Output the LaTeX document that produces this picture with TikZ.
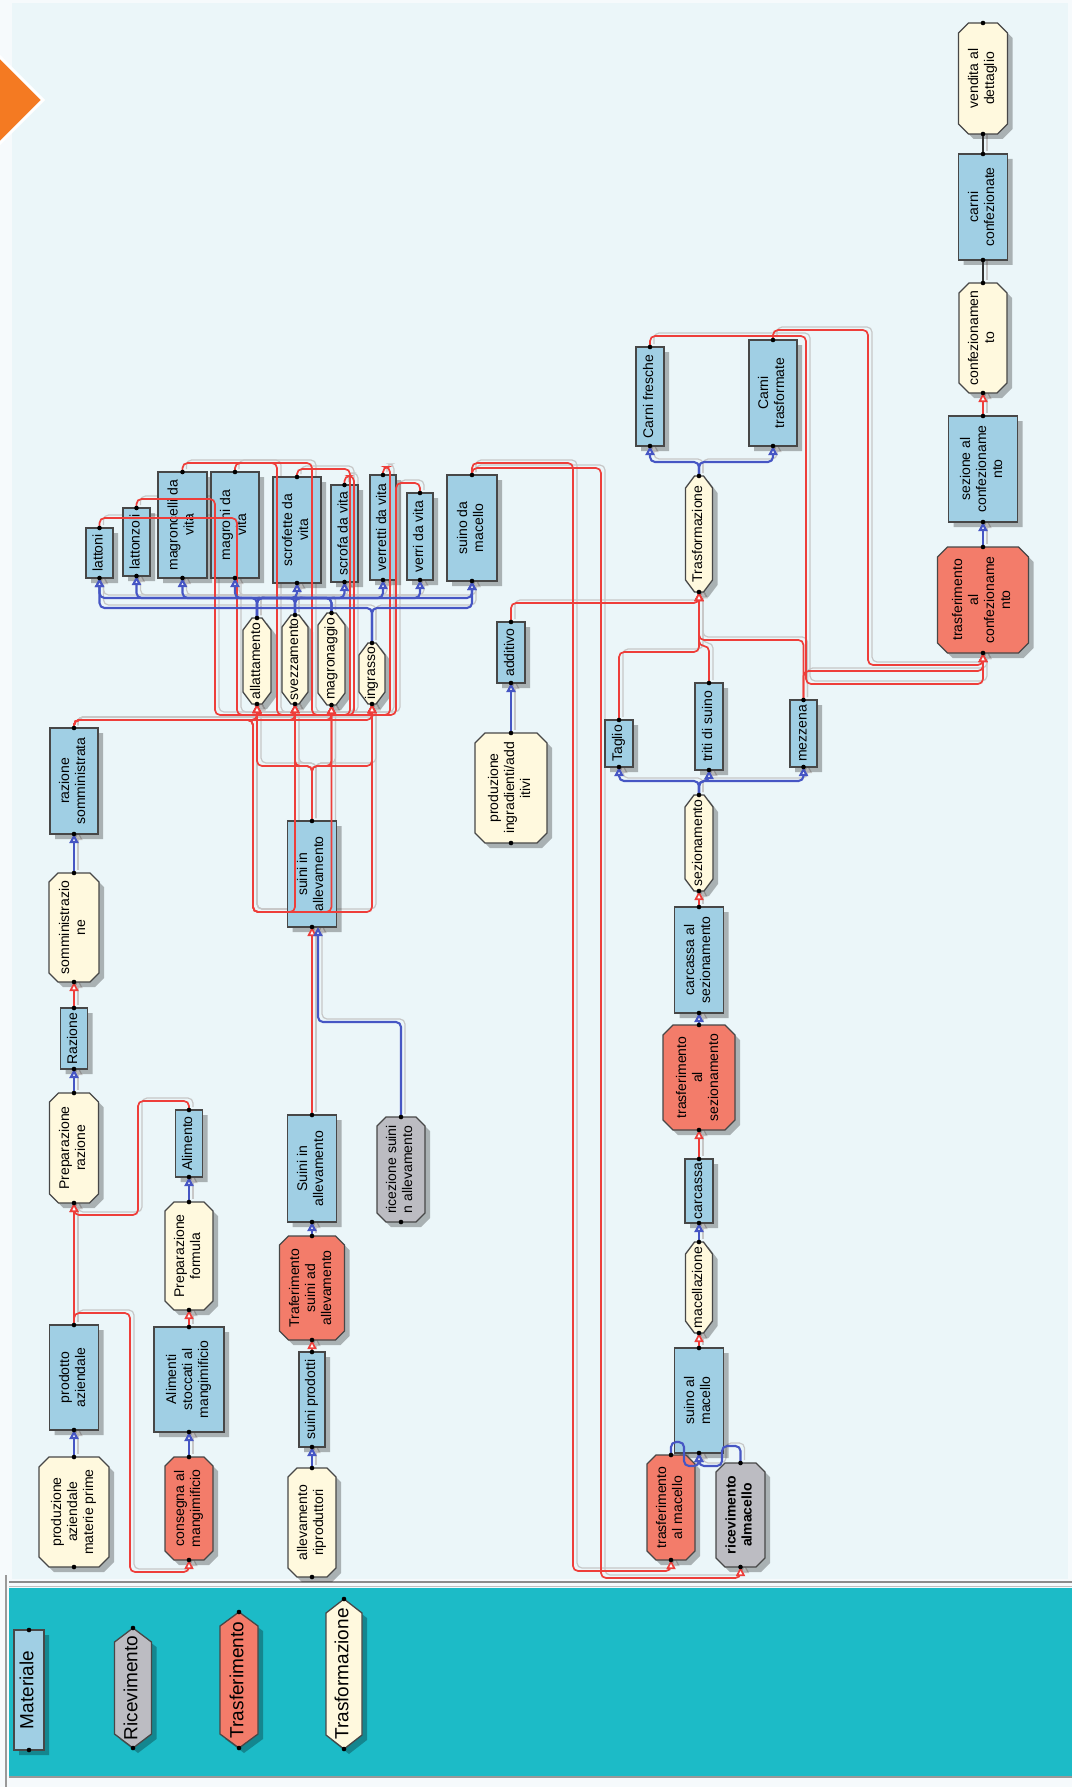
\documentclass[tikz,border=0pt]{standalone}
\usepackage{fontspec}
\setmainfont{Liberation Sans}
\usepackage{graphicx}
\usetikzlibrary{arrows.meta,calc}
\definecolor{matblue}{RGB}{160,207,228}
\definecolor{cream}{RGB}{255,249,222}
\definecolor{salmon}{RGB}{243,124,106}
\definecolor{greyc}{RGB}{188,188,194}
\definecolor{legteal}{RGB}{28,187,199}
\definecolor{panelc}{RGB}{235,246,249}
\definecolor{outc}{RGB}{246,250,252}
\definecolor{lred}{RGB}{238,62,58}
\definecolor{lblue}{RGB}{70,86,196}
\definecolor{orng}{RGB}{244,122,34}
\pgfdeclarelayer{bgl}
\pgfdeclarelayer{shl}
\pgfsetlayers{bgl,shl,main}
\newcommand\nf{\fontsize{14}{16}\selectfont}
\newcommand\lf{\fontsize{19}{21}\selectfont}
\newcommand\rt[1]{\rotatebox{90}{\begin{tabular}{@{}c@{}}#1\end{tabular}}}
\tikzset{
  txt/.style={inner sep=0pt,outer sep=0pt,font=\nf,text=black},
  matn/.style={fill=matblue,draw=black!72,line width=1.3pt},
  trfn/.style={fill=cream,draw=black!72,line width=1.3pt},
  tsfn/.style={fill=salmon,draw=black!72,line width=1.3pt},
  ricn/.style={fill=greyc,draw=black!72,line width=1.3pt},
  tipa/.style={-{Triangle[length=9pt,width=9pt,fill=white]}},
  gline/.style={draw=black!22,line width=1.2pt,rounded corners=5pt,tipa,transform canvas={xshift=4pt,yshift=3pt}},
  rline/.style={draw=lred,line width=1.7pt,rounded corners=5pt,tipa},
  bline/.style={draw=lblue,line width=2.1pt,rounded corners=5pt,tipa},
  kline/.style={draw=black!80,line width=1.1pt},
}
\newcommand\ND[9]{%
  \pgfmathsetmacro\hw{(#5)/2}\pgfmathsetmacro\hh{(#6)/2}%
  \begin{scope}[shift={(#3,#4)}]
    \fill[black,opacity=.28,shift={(5,5)}] (-\hw,{-\hh+#8}) -- ({-\hw+#7},-\hh) -- ({\hw-#7},-\hh) -- (\hw,{-\hh+#8}) -- (\hw,{\hh-#8}) -- ({\hw-#7},\hh) -- ({-\hw+#7},\hh) -- (-\hw,{\hh-#8}) -- cycle;
    \filldraw[#2] (-\hw,{-\hh+#8}) -- ({-\hw+#7},-\hh) -- ({\hw-#7},-\hh) -- (\hw,{-\hh+#8}) -- (\hw,{\hh-#8}) -- ({\hw-#7},\hh) -- ({-\hw+#7},\hh) -- (-\hw,{\hh-#8}) -- cycle;
  \end{scope}
  \node[txt,minimum width=#5pt,minimum height=#6pt] (#1) at (#3,#4) {\rt{#9}};}
\newcommand\RL[2][]{\begin{pgfonlayer}{shl}\draw[gline,#1] #2;\end{pgfonlayer}\draw[rline,#1] #2;}
\newcommand\BL[2][]{\begin{pgfonlayer}{shl}\draw[gline,#1] #2;\end{pgfonlayer}\draw[bline,#1] #2;}
\newcommand\KL[1]{\begin{pgfonlayer}{shl}\draw[kline,draw=black!22,transform canvas={xshift=4pt,yshift=3pt}] #1;\end{pgfonlayer}\draw[kline] #1;}
\begin{document}
\begin{tikzpicture}[x=1pt,y=-1pt]
\useasboundingbox (0,0) rectangle (1072,1787);
\begin{pgfonlayer}{bgl}
\fill[outc] (0,0) rectangle (1072,1787);
\fill[panelc] (12,3) rectangle (1068,1579);
\fill[legteal] (9,1588) rectangle (1072,1776);
\draw[black!45,line width=1.6pt] (9,1582) -- (1072,1582);
\draw[black!25,line width=1pt] (9,1586) -- (1072,1586);
\draw[black!40,line width=1.2pt] (9,1777) -- (1072,1777);
\draw[black!40,line width=1.2pt] (6,1575) -- (6,1787);
\end{pgfonlayer}
% orange marker
\filldraw[fill=orng,draw=white,line width=3pt] (0,57) -- (43,100) -- (0,143) -- (-43,100) -- cycle;
% ---------------- left column
\ND{pamp}{trfn}{74}{1512}{70}{110}{10}{10}{produzione\\aziendale\\materie prime}
\ND{prod}{matn}{74}{1377.5}{49}{105}{0}{0}{prodotto\\aziendale}
\ND{prepr}{trfn}{74}{1148}{49}{110}{9}{9}{Preparazione\\razione}
\ND{raz}{matn}{74}{1038.5}{27}{61}{0}{0}{Razione}
\ND{somm}{trfn}{74}{927.5}{50}{109}{9}{9}{somministrazio\\ne}
\ND{razsom}{matn}{74}{781}{48}{106}{0}{0}{razione\\somministrata}
% ---------------- second column
\ND{consegna}{tsfn}{189}{1508.5}{48}{103}{9}{9}{consegna al\\mangimificio}
\ND{alstocc}{matn}{189}{1379.5}{70}{105}{0}{0}{Alimenti\\stoccati al\\mangimificio}
\ND{prepf}{trfn}{189}{1256}{48}{108}{9}{9}{Preparazione\\formula}
\ND{alim}{matn}{189}{1143.5}{27}{67}{0}{0}{Alimento}
% ---------------- third column
\ND{allrip}{trfn}{312}{1522.5}{48}{109}{9}{9}{allevamento\\riproduttori}
\ND{suinip}{matn}{312}{1399.5}{26}{95}{0}{0}{suini prodotti}
\ND{trasfsa}{tsfn}{312}{1288}{65}{104}{9}{9}{Traferimento\\suini ad\\allevamento}
\ND{suinia1}{matn}{312}{1168.5}{49}{107}{0}{0}{Suini in\\allevamento}
\ND{ricez}{ricn}{401}{1169.5}{48}{105}{9}{9}{ricezione suini\\n allevamento}
\ND{suinia2}{matn}{312}{874}{49}{106}{0}{0}{suini in\\allevamento}
% ---------------- farm processes
\ND{allatt}{trfn}{257}{661}{28}{86}{9}{12}{allattamento}
\ND{svezz}{trfn}{295}{659.5}{26}{89}{9}{12}{svezzamento}
\ND{magron}{trfn}{331.5}{659}{27}{92}{9}{12}{magronaggio}
\ND{ingr}{trfn}{372}{673.5}{26}{61}{9}{12}{ingrasso}
% ---------------- farm materials
\ND{lattoni}{matn}{99.5}{553}{27}{50}{0}{0}{lattoni}
\ND{lattonzoli}{matn}{136.5}{542}{27}{68}{0}{0}{lattonzoli}
\ND{magroncelli}{matn}{182.5}{525}{49}{106}{0}{0}{magroncelli da\\vita}
\ND{magroni}{matn}{235}{525}{48}{106}{0}{0}{magroni da\\vita}
\ND{scrofette}{matn}{297}{530}{48}{106}{0}{0}{scrofette da\\vita}
\ND{scrofa}{matn}{344.5}{533.5}{27}{97}{0}{0}{scrofa da vita}
\ND{verretti}{matn}{383}{527.5}{26}{105}{0}{0}{verretti da vita}
\ND{verri}{matn}{420}{536.5}{26}{87}{0}{0}{verri da vita}
\ND{suinomac}{matn}{472}{528}{50}{106}{0}{0}{suino da\\macello}
% ---------------- slaughter / processing
\ND{prodingr}{trfn}{511}{788}{72}{110}{10}{10}{produzione\\ingradienti/add\\itivi}
\ND{additivo}{matn}{511}{652.5}{28}{61}{0}{0}{additivo}
\ND{trasform}{trfn}{699}{534}{27}{116}{9}{12}{Trasformazione}
\ND{carnifr}{matn}{650}{396.5}{28}{99}{0}{0}{Carni fresche}
\ND{carnitr}{matn}{773}{393}{48}{106}{0}{0}{Carni\\trasformate}
\ND{taglio}{matn}{619}{743.5}{28}{47}{0}{0}{Taglio}
\ND{triti}{matn}{709}{726.5}{28}{87}{0}{0}{triti di suino}
\ND{mezzena}{matn}{803.5}{733.5}{27}{67}{0}{0}{mezzena}
\ND{sez}{trfn}{699}{843}{28}{96}{9}{12}{sezionamento}
\ND{carcsez}{matn}{699}{960}{49}{106}{0}{0}{carcassa al\\sezionamento}
\ND{trasfsez}{tsfn}{699}{1077.5}{72}{105}{10}{10}{trasferimento\\al\\sezionamento}
\ND{carcassa}{matn}{699}{1191}{28}{64}{0}{0}{carcassa}
\ND{macell}{trfn}{699}{1287.5}{27}{91}{9}{12}{macellazione}
\ND{suinomacello}{matn}{699}{1400.5}{49}{105}{0}{0}{suino al\\macello}
\ND{trasfmac}{tsfn}{671}{1507.5}{48}{105}{9}{9}{trasferimento\\al macello}
\ND{ricevmac}{ricn}{740.5}{1515}{49}{104}{9}{9}{\textbf{ricevimento}\\\textbf{almacello}}
% ---------------- packaging column
\ND{vendita}{trfn}{983}{78.5}{49}{111}{10}{10}{vendita al\\dettaglio}
\ND{carniconf}{matn}{983}{207}{49}{106}{0}{0}{carni\\confezionate}
\ND{confez}{trfn}{983}{338}{48}{110}{10}{10}{confezionamen\\to}
\ND{sezconf}{matn}{983}{469}{69}{106}{0}{0}{sezione al\\confezioname\\nto}
\ND{trasfconf}{tsfn}{983}{600}{91}{106}{10}{10}{trasferimento\\al\\confezioname\\nto}
% ---------------- legend
\ND{lmat}{matn}{29}{1690}{30}{120}{0}{0}{\lf Materiale}
\ND{lric}{ricn}{133}{1688}{37}{120}{18.5}{14}{\lf Ricevimento}
\ND{ltrasf}{tsfn}{239}{1680}{38}{136}{19}{14}{\lf Trasferimento}
\ND{ltrasfm}{trfn}{344}{1674}{36}{150}{18}{14}{\lf Trasformazione}
% ================= connectors
% left column
\BL{(pamp.north) -- (prod.south)}
\RL{(prod.north) -- (prepr.south)}
\RL{(prod.north) |- (130,1313) -- (130,1572) -| (consegna.south)}
\BL{(consegna.north) -- (alstocc.south)}
\RL{(alstocc.north) -- (prepf.south)}
\BL{(prepf.north) -- (alim.south)}
\RL{(alim.north) |- (138,1101) -- (138,1215) -| (prepr.south)}
\BL{(prepr.north) -- (raz.south)}
\RL{(raz.north) -- (somm.south)}
\BL{(somm.north) -- (razsom.south)}
% ration bus to farm processes
\RL{(razsom.north) |- (257,720) -- (allatt.south)}
\RL{(razsom.north) |- (295,720) -- (svezz.south)}
\RL{(razsom.north) |- (331.5,720) -- (magron.south)}
\RL{(razsom.north) |- (372,720) -- (ingr.south)}
\RL{(razsom.north) |- (253,720) -- (253,912) -| (ingr.south)}
\RL{(razsom.north) |- (253,720) -- (253,912) -| (svezz.south)}
\RL{(razsom.north) |- (253,720) -- (253,912) -| (magron.south)}
% animals back into processes
\RL{(lattonzoli.north) |- (215,499) -- (215,715) -| (magron.south)}
\RL{(lattoni.north) |- (237,518) -- (237,715) -| (svezz.south)}
\RL{(magroncelli.north) |- (277,463) -- (277,715) -| (ingr.south)}
\RL{(magroni.north) |- (312,463) -- (312,715) -| (ingr.south)}
\RL{(scrofette.north) |- (350,469) -- (350,715) -| (allatt.south)}
\RL{(scrofa.north) |- (354,476) -- (354,715) -| (allatt.south)}
\RL{(verretti.north) |- (390,467) -- (390,715) -| (allatt.south)}
\RL{(verri.north) |- (396,483) -- (396,715) -| (allatt.south)}
% middle column
\BL{(allrip.north) -- (suinip.south)}
\RL{(suinip.north) -- (trasfsa.south)}
\BL{(trasfsa.north) -- (suinia1.south)}
\RL{(suinia1.north) -- (suinia2.south)}
\BL{(ricez.north) |- ($(suinia2.south)+(6,95)$) -- ($(suinia2.south)+(6,0)$)}
\RL{(suinia2.north) |- (257,766) -- (allatt.south)}
\RL{(suinia2.north) |- (295,766) -- (svezz.south)}
\RL{(suinia2.north) |- (331.5,766) -- (magron.south)}
\RL{(suinia2.north) |- (372,766) -- (ingr.south)}
% farm outputs (blue bus)
\BL{(allatt.north) |- (99.5,598) -- (lattoni.south)}
\BL{(allatt.north) |- (472,598) -- (suinomac.south)}
\BL{(allatt.north) |- (383,598) -- (verretti.south)}
\BL{(allatt.north) |- (420,598) -- (verri.south)}
\BL{(svezz.north) |- (136.5,598) -- (lattonzoli.south)}
\BL{(svezz.north) |- (297,598) -- (scrofette.south)}
\BL{(svezz.north) |- (344.5,598) -- (scrofa.south)}
\BL{(magron.north) |- (182.5,598) -- (magroncelli.south)}
\BL{(magron.north) |- (235,598) -- (magroni.south)}
\BL{(ingr.north) |- (99.5,608) -- (lattoni.south)}
\BL{(ingr.north) |- (472,608) -- (suinomac.south)}
% slaughter chain
\RL{(suinomac.north) |- (573,463) -- (573,1571) -| (trasfmac.south)}
\RL{(suinomac.north) |- (601,468) -- (601,1578) -| (ricevmac.south)}
\BL{(trasfmac.north) |- (684,1442) -- (684,1466) -| (suinomacello.south)}
\BL{(ricevmac.north) |- (722,1446) -- (722,1466) -| (suinomacello.south)}
\RL{(suinomacello.north) -- (macell.south)}
\BL{(macell.north) -- (carcassa.south)}
\RL{(carcassa.north) -- (trasfsez.south)}
\BL{(trasfsez.north) -- (carcsez.south)}
\RL{(carcsez.north) -- (sez.south)}
\BL{(sez.north) |- (619,781) -- (taglio.south)}
\BL{(sez.north) |- (709,781) -- (triti.south)}
\BL{(sez.north) |- (803.5,781) -- (mezzena.south)}
% into trasformazione
\BL{(prodingr.north) -- (additivo.south)}
\RL{(additivo.north) |- (699,603) -- (trasform.south)}
\RL{(taglio.north) |- (699,652) -- (trasform.south)}
\RL{(triti.north) |- (699,646) -- (trasform.south)}
\RL{(mezzena.north) |- (699,640) -- (trasform.south)}
\BL{(trasform.north) |- (650,462) -- (carnifr.south)}
\BL{(trasform.north) |- (773,462) -- (carnitr.south)}
% into packaging
\RL{(carnitr.north) |- (868,330) -- (868,665) -| (trasfconf.south)}
\RL{(carnifr.north) |- (806,336) -- (806,684) -| (trasfconf.south)}
\RL{(mezzena.north) |- (850,671) -| (trasfconf.south)}
\BL{(trasfconf.north) -- (sezconf.south)}
\RL{(sezconf.north) -- (confez.south)}
\KL{(confez.north) -- (carniconf.south)}
\KL{(carniconf.north) -- (vendita.south)}
% ports
\foreach \n in {pamp,prod,prepr,raz,somm,razsom,consegna,alstocc,prepf,alim,allrip,suinip,trasfsa,suinia1,ricez,suinia2,allatt,svezz,magron,ingr,lattoni,lattonzoli,magroncelli,magroni,scrofette,scrofa,verretti,verri,suinomac,prodingr,additivo,trasform,carnifr,carnitr,taglio,triti,mezzena,sez,carcsez,trasfsez,carcassa,macell,suinomacello,trasfmac,ricevmac,vendita,carniconf,confez,sezconf,trasfconf,lmat,lric,ltrasf,ltrasfm}
  {\fill (\n.north) circle[radius=2.3pt]; \fill (\n.south) circle[radius=2.3pt];}
\end{tikzpicture}
\end{document}
